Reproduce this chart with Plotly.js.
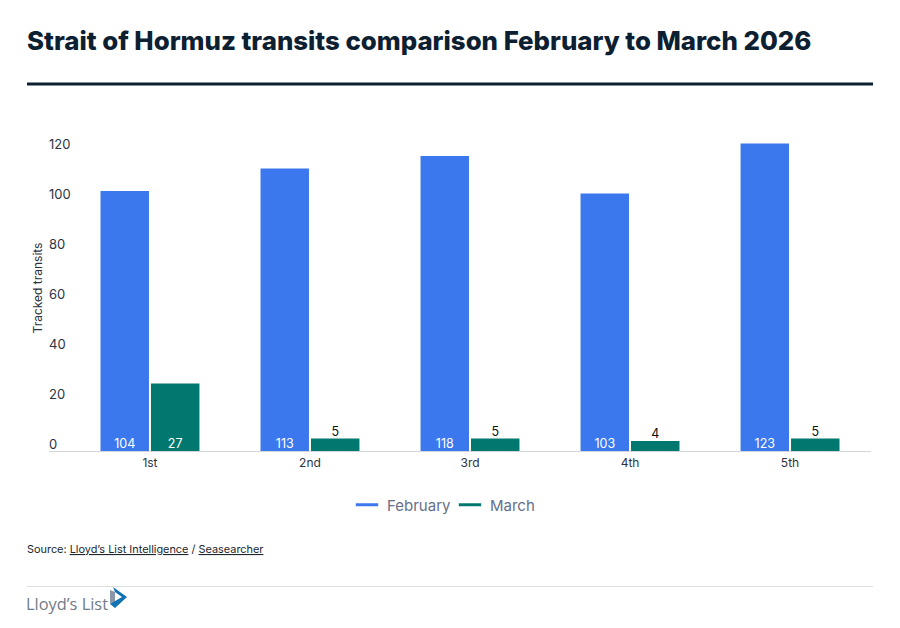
<!DOCTYPE html>
<html>
<head>
<meta charset="utf-8">
<script src="https://cdn.plot.ly/plotly-3.0.1.min.js"></script>
<style>html,body{margin:0;padding:0;background:#fff}</style>
</head>
<body>
<div id="chart" style="width:900px;height:628px"></div>
<script>
const categories = ['1st', '2nd', '3rd', '4th', '5th'];
const february = [104, 113, 118, 103, 123];
const march = [27, 5, 5, 4, 5];
const yTicks = [0, 20, 40, 60, 80, 100, 120];

const BLUE = '#3b78ed', GREEN = '#00786f', INK = '#0c2031', TXT = '#2c3442';
const FONT = 'Inter, "Liberation Sans", sans-serif';
const W = 900, H = 628, L = 49, R = 871, T = 115, B = 461;
const px = x => (x - L) / (R - L);
const py = y => (B - y) / (B - T);

const traces = [
  {type:'bar', name:'February', x:categories, y:february, marker:{color:BLUE}, showlegend:false,
   text:february.map(String), textposition:'inside', insidetextanchor:'start', constraintext:'none', textangle:0,
   textfont:{family:FONT,size:12.5,color:'#ffffff'}, cliponaxis:false},
  {type:'bar', name:'March', x:categories, y:march, marker:{color:GREEN}, showlegend:false,
   text:march.map(String), textposition:march.map(v => v > 10 ? 'inside' : 'outside'), insidetextanchor:'start',
   constraintext:'none', textangle:0,
   textfont:{family:FONT,size:12.5,color:march.map(v => v > 10 ? '#ffffff' : '#111111')}, cliponaxis:false},
  {type:'scatter', mode:'markers', name:'February', x:[null], y:[null],
   marker:{symbol:'line-ew', size:16, line:{width:3, color:BLUE}}},
  {type:'scatter', mode:'markers', name:'March', x:[null], y:[null],
   marker:{symbol:'line-ew', size:16, line:{width:3, color:GREEN}}}
];

const layout = {
  width:W, height:H,
  margin:{l:L, r:W-R, t:T, b:H-B, pad:0},
  paper_bgcolor:'#fff', plot_bgcolor:'#fff',
  font:{family:FONT, color:TXT, size:12},
  title:{text:'Strait of Hormuz transits comparison February to March 2026',
    x:27/W, xanchor:'left', xref:'container', y:1-41/H, yanchor:'middle', pad:{l:0},
    font:{family:FONT, size:25.8, weight:800, color:INK}},
  barmode:'group', bargap:0.369, bargroupgap:0.04,
  xaxis:{type:'category', categoryorder:'array', categoryarray:categories, range:[-0.631, 4.506], autorange:false,
    showline:false, showgrid:false, ticks:'', zeroline:false,
    ticklabelstandoff:-7, tickfont:{family:FONT,size:12,color:TXT}},
  yaxis:{range:[-4,134.4], autorange:false, tickvals:yTicks, ticktext:yTicks.map(String), showgrid:false,
    zeroline:true, zerolinecolor:'#d3d6da', zerolinewidth:1,
    showline:false, ticks:'', ticklabelposition:'inside', ticklabelshift:-7, ticklabelstandoff:-3,
    tickfont:{family:FONT,size:13,color:TXT},
    title:{text:'Tracked transits', font:{family:FONT,size:12,color:TXT}, standoff:3}},
  showlegend:true,
  legend:{orientation:'h', x:px(347), xanchor:'left', y:py(505), yanchor:'middle', bgcolor:'rgba(0,0,0,0)',
    entrywidth:58, entrywidthmode:'pixels',
    font:{family:FONT,size:15,color:'#64708a'}, itemclick:false, itemdoubleclick:false},
  shapes:[
    {type:'line', xref:'paper', yref:'paper', x0:px(27), x1:px(873), y0:py(84), y1:py(84), line:{color:INK,width:3}},
    {type:'line', xref:'paper', yref:'paper', x0:px(27), x1:px(873), y0:py(586.5), y1:py(586.5), line:{color:'#dcdee0',width:1}},
    {type:'path', xref:'paper', yref:'paper', fillcolor:'#8a97a8', line:{width:0},
      path:`M${px(110)} ${py(590)} L${px(115)} ${py(592)} L${px(115)} ${py(602)} L${px(110)} ${py(604)} Z`},
    {type:'path', xref:'paper', yref:'paper', fillcolor:'#1273b4', line:{width:0},
      path:`M${px(113)} ${py(587)} L${px(127)} ${py(597)} L${px(115)} ${py(608)} L${px(110)} ${py(604)} L${px(122)} ${py(597)} L${px(115)} ${py(592)} Z`}
  ],
  annotations:[
    {xref:'paper', yref:'paper', x:px(24.5), y:py(549), xanchor:'left', yanchor:'middle', showarrow:false, align:'left',
     font:{family:FONT,size:10.9,color:'#20262e'},
     text:'Source: <span style="text-decoration:underline">Lloyd’s List Intelligence</span> / <span style="text-decoration:underline">Seasearcher</span>'},
    {xref:'paper', yref:'paper', x:px(24), y:py(603), xanchor:'left', yanchor:'middle', showarrow:false,
     font:{family:'"Open Sans", sans-serif',size:16.4,color:'#727b88'}, text:'Lloyd’s List'}
  ]
};
Plotly.newPlot('chart', traces, layout, {displayModeBar:false, responsive:false}).then(gd => {
  gd.querySelectorAll('.bars text.bartext').forEach(t => {
    t.setAttribute('transform', 'translate(0,3) ' + (t.getAttribute('transform') || ''));
  });
});
</script>
</body>
</html>
